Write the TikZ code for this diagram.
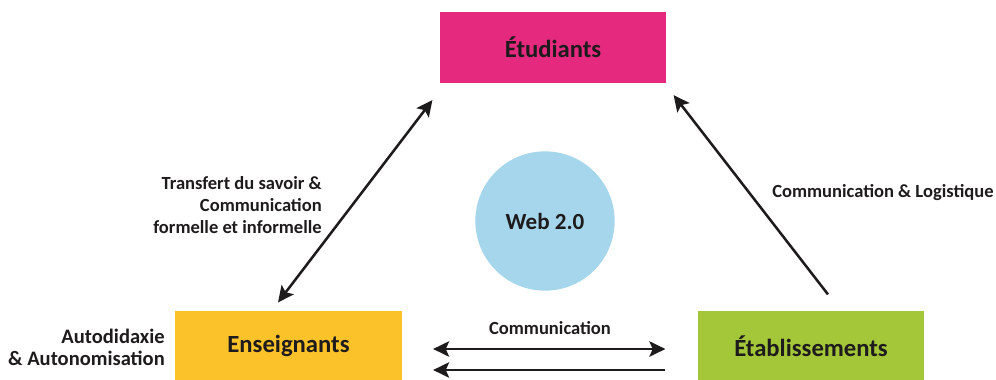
\documentclass[tikz,border=0pt]{standalone}
\usepackage{fontspec}
\setmainfont{Carlito}
\usetikzlibrary{arrows.meta}
\definecolor{etuPink}{RGB}{229,41,126}
\definecolor{ensYellow}{RGB}{252,194,42}
\definecolor{etaGreen}{RGB}{164,198,57}
\definecolor{webBlue}{RGB}{166,214,236}
\definecolor{txt}{RGB}{30,27,28}

\begin{document}
\begin{tikzpicture}[x=0.75pt,y=0.75pt,yscale=-1,xscale=1,
	box/.style={inner sep=0pt,minimum width=170pt,minimum height=53pt,font=\fontsize{18.5}{21}\selectfont\bfseries,text=txt},
	lbl/.style={inner sep=0.75pt,font=\fontsize{13.9}{16.5}\selectfont\bfseries,text=txt},
	arr/.style={line width=1.9pt,draw=txt},
	>={Stealth[length=12pt,width=11.5pt,inset=2.5pt]}]
	\useasboundingbox (0,0) rectangle (996,379);
	\clip (0,0) rectangle (996,379);
	% the three actors
	\node [box,fill=etuPink] (etu) at (553,47.5) {Étudiants};
	\node [box,fill=ensYellow] (ens) at (288.5,346) {Enseignants};
	\node [box,fill=etaGreen] (eta) at (811,346) {Établissements};
	\node [circle,fill=webBlue,minimum size=104.5pt,inner sep=0pt,font=\fontsize{17.3}{20}\selectfont\bfseries,text=txt] (web) at (545,221) {Web 2.0};
	% labels
	\node [lbl,anchor=east,align=right] (transfert) at (323,205) {Transfert du savoir \&\\Communication\\formelle et informelle};
	\node [lbl,anchor=east,align=right,font=\fontsize{15.4}{16.5}\selectfont\bfseries] (auto) at (166,347) {Autodidaxie\\\& Autonomisation};
	\node [lbl] (comm) at (550,328) {Communication};
	\node [lbl,anchor=west] (logist) at (771,193) {Communication \& Logistique};
	% arrows
	\draw [arr,<->] ([shift={(-10.5,-8)}]ens.north) -- ([shift={(-7,17)}]etu.south west);
	\draw [arr,->] ([shift={(17,-16)}]eta.north) -- ([shift={(7,12)}]etu.south east);
	\draw [arr,<->] ([shift={(31,3)}]ens.east) -- ([shift={(-32,3)}]eta.west);
	\draw [arr,<-] ([shift={(31,24)}]ens.east) -- ([shift={(-32,24)}]eta.west);
\end{tikzpicture}
\end{document}
